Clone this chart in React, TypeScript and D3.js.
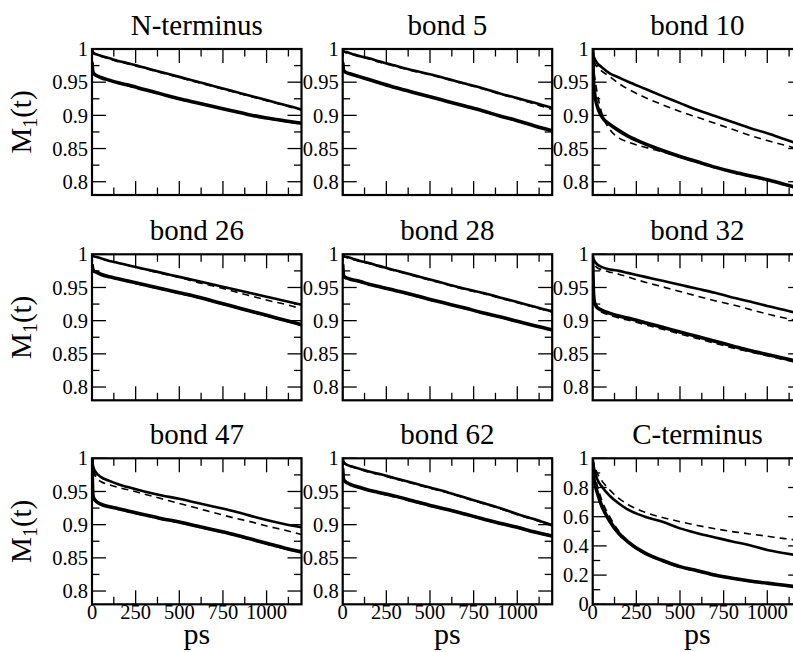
import React from "react";
import * as d3 from "d3";

// time grid (ps) shared by all curves
const T = [0, 5, 10, 25, 50, 100, 150, 200, 300, 400, 500, 600, 700, 800, 900, 1000, 1100, 1200];

const titles = ["N-terminus", "bond 5", "bond 10", "bond 26", "bond 28", "bond 32", "bond 47", "bond 62", "C-terminus"];

// s = simulation (solid), d = fit (dashed); 1 = upper pair, 2 = lower pair
const nterm_s1 = [1.0, 0.996, 0.994, 0.992, 0.99, 0.986, 0.982, 0.979, 0.972, 0.965, 0.958, 0.951, 0.944, 0.937, 0.93, 0.923, 0.916, 0.909];
const nterm_d1 = [1.0, 0.995, 0.993, 0.991, 0.989, 0.985, 0.981, 0.978, 0.971, 0.964, 0.957, 0.95, 0.943, 0.936, 0.929, 0.922, 0.915, 0.908];
const nterm_s2 = [0.98, 0.966, 0.963, 0.96, 0.957, 0.953, 0.949, 0.946, 0.939, 0.932, 0.925, 0.919, 0.913, 0.907, 0.901, 0.896, 0.892, 0.888];
const nterm_d2 = [1.0, 0.97, 0.964, 0.96, 0.957, 0.953, 0.949, 0.945, 0.938, 0.931, 0.925, 0.919, 0.913, 0.907, 0.901, 0.896, 0.891, 0.887];

const b5_s1 = [0.998, 0.997, 0.996, 0.995, 0.993, 0.989, 0.986, 0.982, 0.975, 0.968, 0.962, 0.955, 0.948, 0.941, 0.933, 0.926, 0.919, 0.911];
const b5_d1 = [1.0, 0.996, 0.995, 0.994, 0.992, 0.988, 0.985, 0.981, 0.974, 0.967, 0.961, 0.954, 0.947, 0.94, 0.932, 0.925, 0.917, 0.909];
const b5_s2 = [0.98, 0.968, 0.966, 0.964, 0.962, 0.958, 0.954, 0.95, 0.942, 0.935, 0.928, 0.921, 0.914, 0.907, 0.899, 0.892, 0.884, 0.877];
const b5_d2 = [1.0, 0.972, 0.967, 0.964, 0.962, 0.958, 0.954, 0.95, 0.942, 0.935, 0.928, 0.921, 0.914, 0.906, 0.899, 0.891, 0.884, 0.876];

const b10_s1 = [1.0, 0.99, 0.986, 0.979, 0.973, 0.963, 0.957, 0.951, 0.94, 0.929, 0.9185, 0.908, 0.899, 0.89, 0.881, 0.873, 0.864, 0.855];
const b10_d1 = [1.0, 0.985, 0.98, 0.973, 0.967, 0.958, 0.948, 0.94, 0.927, 0.916, 0.906, 0.897, 0.888, 0.879, 0.87, 0.862, 0.855, 0.848];
const b10_s2 = [1.0, 0.95, 0.935, 0.915, 0.899, 0.886, 0.877, 0.869, 0.857, 0.847, 0.838, 0.83, 0.822, 0.815, 0.809, 0.803, 0.796, 0.789];
const b10_d2 = [1.0, 0.97, 0.96, 0.935, 0.905, 0.878, 0.866, 0.86, 0.852, 0.845, 0.837, 0.829, 0.821, 0.814, 0.808, 0.802, 0.795, 0.788];

const b26_s1 = [1.0, 0.998, 0.997, 0.996, 0.994, 0.99, 0.987, 0.984, 0.978, 0.972, 0.966, 0.96, 0.954, 0.948, 0.942, 0.936, 0.93, 0.924];
const b26_d1 = [1.0, 0.998, 0.997, 0.996, 0.994, 0.99, 0.987, 0.984, 0.977, 0.971, 0.965, 0.958, 0.952, 0.945, 0.938, 0.931, 0.925, 0.918];
const b26_s2 = [0.985, 0.977, 0.975, 0.973, 0.97, 0.966, 0.963, 0.96, 0.954, 0.948, 0.942, 0.936, 0.929, 0.922, 0.915, 0.908, 0.901, 0.894];
const b26_d2 = [1.0, 0.98, 0.976, 0.973, 0.97, 0.966, 0.963, 0.959, 0.953, 0.947, 0.941, 0.935, 0.928, 0.921, 0.914, 0.907, 0.9, 0.893];

const b28_s1 = [0.999, 0.998, 0.997, 0.996, 0.994, 0.99, 0.987, 0.983, 0.976, 0.969, 0.962, 0.955, 0.948, 0.942, 0.935, 0.928, 0.921, 0.914];
const b28_d1 = [1.0, 0.997, 0.996, 0.995, 0.993, 0.989, 0.986, 0.982, 0.975, 0.968, 0.961, 0.954, 0.947, 0.941, 0.934, 0.927, 0.92, 0.913];
const b28_s2 = [0.985, 0.968, 0.966, 0.964, 0.962, 0.959, 0.955, 0.952, 0.9455, 0.939, 0.932, 0.9255, 0.919, 0.912, 0.906, 0.899, 0.8925, 0.886];
const b28_d2 = [1.0, 0.972, 0.967, 0.964, 0.962, 0.958, 0.955, 0.951, 0.945, 0.938, 0.931, 0.925, 0.918, 0.911, 0.905, 0.898, 0.892, 0.885];

const b32_s1 = [1.0, 0.993, 0.99, 0.985, 0.981, 0.977, 0.975, 0.972, 0.966, 0.96, 0.954, 0.948, 0.942, 0.935, 0.929, 0.922, 0.916, 0.909];
const b32_d1 = [1.0, 0.99, 0.985, 0.98, 0.977, 0.973, 0.97, 0.966, 0.958, 0.951, 0.944, 0.937, 0.93, 0.924, 0.917, 0.91, 0.904, 0.898];
const b32_s2 = [0.99, 0.94, 0.928, 0.92, 0.916, 0.911, 0.907, 0.904, 0.897, 0.89, 0.883, 0.876, 0.869, 0.862, 0.855, 0.849, 0.843, 0.837];
const b32_d2 = [1.0, 0.95, 0.93, 0.918, 0.913, 0.908, 0.904, 0.901, 0.894, 0.887, 0.88, 0.873, 0.866, 0.859, 0.853, 0.847, 0.841, 0.835];

const b47_s1 = [1.0, 0.99, 0.985, 0.978, 0.972, 0.966, 0.961, 0.957, 0.95, 0.944, 0.939, 0.933, 0.927, 0.921, 0.914, 0.907, 0.901, 0.896];
const b47_d1 = [1.0, 0.985, 0.98, 0.97, 0.965, 0.96, 0.956, 0.953, 0.946, 0.939, 0.932, 0.925, 0.918, 0.911, 0.905, 0.898, 0.892, 0.885];
const b47_s2 = [1.0, 0.945, 0.94, 0.935, 0.931, 0.927, 0.924, 0.921, 0.915, 0.909, 0.904, 0.898, 0.892, 0.886, 0.879, 0.872, 0.865, 0.859];
const b47_d2 = [1.0, 0.95, 0.942, 0.935, 0.931, 0.927, 0.924, 0.92, 0.914, 0.908, 0.903, 0.897, 0.891, 0.885, 0.878, 0.871, 0.864, 0.858];

const b62_s1 = [1.0, 0.995, 0.993, 0.99, 0.988, 0.984, 0.98, 0.977, 0.97, 0.963, 0.956, 0.949, 0.941, 0.933, 0.925, 0.916, 0.908, 0.899];
const b62_d1 = [1.0, 0.994, 0.992, 0.989, 0.987, 0.983, 0.979, 0.976, 0.969, 0.962, 0.955, 0.948, 0.94, 0.932, 0.924, 0.915, 0.907, 0.898];
const b62_s2 = [0.985, 0.968, 0.966, 0.963, 0.96, 0.956, 0.952, 0.949, 0.943, 0.936, 0.929, 0.923, 0.916, 0.909, 0.902, 0.896, 0.889, 0.883];
const b62_d2 = [1.0, 0.972, 0.967, 0.963, 0.96, 0.955, 0.952, 0.948, 0.942, 0.935, 0.928, 0.922, 0.915, 0.908, 0.901, 0.895, 0.888, 0.882];

const cterm_s1 = [1.0, 0.95, 0.92, 0.86, 0.81, 0.74, 0.69, 0.65, 0.6, 0.565, 0.52, 0.487, 0.458, 0.43, 0.405, 0.372, 0.35, 0.33];
const cterm_d1 = [1.0, 0.97, 0.95, 0.9, 0.85, 0.78, 0.725, 0.685, 0.63, 0.595, 0.566, 0.54, 0.518, 0.498, 0.482, 0.466, 0.45, 0.435];
const cterm_s2 = [0.97, 0.88, 0.84, 0.77, 0.68, 0.565, 0.485, 0.43, 0.35, 0.3, 0.258, 0.23, 0.2, 0.178, 0.16, 0.145, 0.13, 0.115];
const cterm_d2 = [1.0, 0.93, 0.9, 0.82, 0.72, 0.595, 0.5, 0.43, 0.345, 0.295, 0.253, 0.225, 0.196, 0.175, 0.157, 0.142, 0.127, 0.112];

const xMajor = [0, 250, 500, 750, 1000];
const xMinor = [125, 375, 625, 875, 1125];
const xTickLabels = ["0", "250", "500", "750", "1000"];

const yMajorA = [0.8, 0.85, 0.9, 0.95, 1];
const yMinorA = [0.825, 0.875, 0.925, 0.975];
const yTickLabelsA = ["0.8", "0.85", "0.9", "0.95", "1"];

const yMajorC = [0, 0.2, 0.4, 0.6, 0.8, 1];
const yMinorC = [0.1, 0.3, 0.5, 0.7, 0.9];
const yTickLabelsC = ["0", "0.2", "0.4", "0.6", "0.8", "1"];

const series = [
  [nterm_s1, nterm_d1, nterm_s2, nterm_d2],
  [b5_s1, b5_d1, b5_s2, b5_d2],
  [b10_s1, b10_d1, b10_s2, b10_d2],
  [b26_s1, b26_d1, b26_s2, b26_d2],
  [b28_s1, b28_d1, b28_s2, b28_d2],
  [b32_s1, b32_d1, b32_s2, b32_d2],
  [b47_s1, b47_d1, b47_s2, b47_d2],
  [b62_s1, b62_d1, b62_s2, b62_d2],
  [cterm_s1, cterm_d1, cterm_s2, cterm_d2],
];

const colLeft = [92, 342.7, 592.7];
const rowTop = [49, 254.3, 458.3];
const W = 209.5;
const H = 146;
const txt = { fontFamily: "Liberation Serif" };

function Panel({ idx }: { idx: number }) {
  const col = idx % 3;
  const row = Math.floor(idx / 3);
  const x0 = colLeft[col];
  const y0 = rowTop[row];
  const isC = idx === 8;
  const x = d3.scaleLinear().domain([0, 1200]).range([x0, x0 + W]);
  const y = d3.scaleLinear().domain(isC ? [0, 1] : [0.78, 1]).range([y0 + H, y0]);
  const line = d3
    .line<number>()
    .x((_, i) => x(T[i]))
    .y((v) => y(v))
    .curve(d3.curveMonotoneX);
  const [s1, d1, s2, d2] = series[idx];
  const yMajor = isC ? yMajorC : yMajorA;
  const yMinor = isC ? yMinorC : yMinorA;
  const yLabels = isC ? yTickLabelsC : yTickLabelsA;
  const clipId = `clip${idx}`;
  const major = 14;
  const minor = 7.5;
  return (
    <g>
      <clipPath id={clipId}>
        <rect x={x0} y={y0} width={W} height={H} />
      </clipPath>
      <g clipPath={`url(#${clipId})`} fill="none" stroke="#000">
        <path d={line(d1) || ""} strokeWidth={1.6} strokeDasharray="7,5" />
        <path d={line(d2) || ""} strokeWidth={1.6} strokeDasharray="7,5" />
        <path d={line(s1) || ""} strokeWidth={2.6} />
        <path d={line(s2) || ""} strokeWidth={3.6} />
      </g>
      <g stroke="#000" strokeWidth={1.3}>
        {xMajor.map((t) => (
          <g key={"xM" + t}>
            <line x1={x(t)} x2={x(t)} y1={y0 + H} y2={y0 + H - major} />
            <line x1={x(t)} x2={x(t)} y1={y0} y2={y0 + major} />
          </g>
        ))}
        {xMinor.map((t) => (
          <g key={"xm" + t}>
            <line x1={x(t)} x2={x(t)} y1={y0 + H} y2={y0 + H - minor} />
            <line x1={x(t)} x2={x(t)} y1={y0} y2={y0 + minor} />
          </g>
        ))}
        {yMajor.map((v) => (
          <g key={"yM" + v}>
            <line x1={x0} x2={x0 + major} y1={y(v)} y2={y(v)} />
            <line x1={x0 + W} x2={x0 + W - major} y1={y(v)} y2={y(v)} />
          </g>
        ))}
        {yMinor.map((v) => (
          <g key={"ym" + v}>
            <line x1={x0} x2={x0 + minor} y1={y(v)} y2={y(v)} />
            <line x1={x0 + W} x2={x0 + W - minor} y1={y(v)} y2={y(v)} />
          </g>
        ))}
      </g>
      <rect x={x0} y={y0} width={W} height={H} fill="none" stroke="#000" strokeWidth={2.2} />
      {yMajor.map((v, i) => (
        <text key={"yl" + v} x={x0 - 4} y={y(v)} dy="0.35em" textAnchor="end" fontSize={20.5} style={txt}>
          {yLabels[i]}
        </text>
      ))}
      {row === 2 &&
        xMajor.map((t, i) => (
          <text key={"xl" + t} x={x(t)} y={y0 + H + 15} textAnchor="middle" fontSize={20.5} style={txt}>
            {xTickLabels[i]}
          </text>
        ))}
      <text x={x0 + W / 2} y={y0 - 14} textAnchor="middle" fontSize={29} style={txt}>
        {titles[idx]}
      </text>
      {row === 2 && (
        <text x={x0 + W / 2} y={y0 + H + 39.5} textAnchor="middle" fontSize={30} style={txt}>
          ps
        </text>
      )}
      {col === 0 && (
        <text transform={`translate(31, ${y0 + H / 2}) rotate(-90)`} textAnchor="middle" fontSize={29} style={txt}>
          M
          <tspan fontSize={20} dy={6}>1</tspan>
          <tspan dy={-6}>(t)</tspan>
        </text>
      )}
    </g>
  );
}

export default function App() {
  return (
    <svg width={793} height={652} style={{ position: "absolute", left: 0, top: 0, background: "#fff" }}>
      <rect width={793} height={652} fill="#fff" />
      {titles.map((_, i) => (
        <Panel key={i} idx={i} />
      ))}
    </svg>
  );
}
